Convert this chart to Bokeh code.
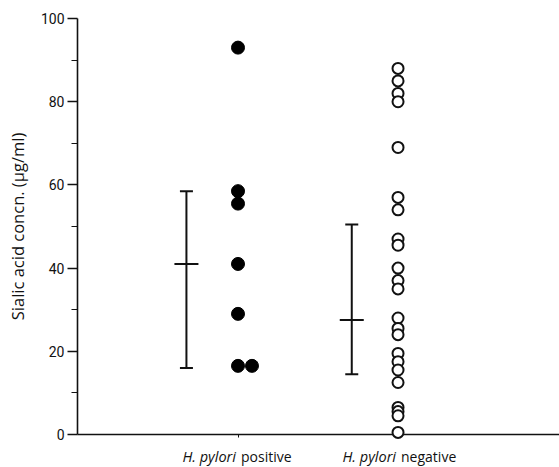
from bokeh.plotting import figure
from bokeh.models import Range1d, FixedTicker
from bokeh.core.properties import value
from bokeh.embed import file_html
from bokeh.resources import INLINE

# ---- data ----
groups = ["positive", "negative"]
group_x = [33.3, 66.5]           # position of each group's dots
stat_x = [22.6, 56.9]            # position of each group's mean/range bar
pos_x = [33.3, 33.3, 33.3, 33.3, 33.3, 33.3, 36.2]
pos_values = [93, 58.5, 55.5, 41, 29, 16.5, 16.5]
neg_values = [88, 85, 82, 80, 69, 57, 54, 47, 45.5, 40, 37, 35, 28, 25.5,
              24, 19.5, 17.5, 15.5, 12.5, 6.5, 5.5, 4.5, 0.5]
means = [41, 27.5]
upper = [58.5, 50.5]
lower = [16, 14.5]
y_ticks = [0, 20, 40, 60, 80, 100]
y_minor = [10, 30, 50, 70, 90]
label_italic = ["H. pylori", "H. pylori"]
label_plain = ["positive", "negative"]

FONT = "Roboto"
LFONT = "Open Sans"

p = figure(width=559, height=467, output_backend="svg", toolbar_location=None,
           x_range=Range1d(0, 100), y_range=Range1d(0, 100),
           min_border_left=77, min_border_right=0, min_border_top=18,
           min_border_bottom=33)
p.outline_line_color = None
p.grid.visible = False
p.background_fill_color = "white"

# y axis
ya = p.yaxis[0]
ya.ticker = FixedTicker(ticks=y_ticks, minor_ticks=y_minor)
ya.axis_line_width = 1.6
ya.axis_line_color = "#111111"
ya.major_tick_line_color = "#111111"
ya.minor_tick_line_color = "#111111"
ya.major_tick_out = 10
ya.major_tick_in = 0
ya.minor_tick_out = 6
ya.minor_tick_in = 0
ya.major_tick_line_width = 1.3
ya.minor_tick_line_width = 1.2
ya.major_label_text_font = FONT
ya.major_label_text_font_size = "14px"
ya.major_label_text_color = "#111111"
ya.major_label_standoff = 3
ya.axis_label = "Sialic acid concn. (\u03bcg/ml)"
ya.axis_label_text_font = LFONT
ya.axis_label_text_font_style = "normal"
ya.axis_label_text_font_size = "16.5px"
ya.axis_label_text_color = "#111111"
ya.axis_label_standoff = 9

# x axis
xa = p.xaxis[0]
xa.ticker = FixedTicker(ticks=group_x, minor_ticks=[])
xa.axis_line_width = 1.6
xa.axis_line_color = "#111111"
xa.major_tick_out = 3
xa.major_tick_in = 0
xa.major_tick_line_color = "#111111"
xa.major_label_overrides = {gx: "" for gx in group_x}
xa.major_label_text_font_size = "1px"

# x category labels (italic genus + plain word)
p.text(x=group_x, y=[0, 0], text=label_italic, text_align="right",
       text_baseline="top", y_offset=12, x_offset=-2,
       text_font=value(LFONT), text_font_style="italic",
       text_font_size="14.5px", text_color="#111111", level="overlay")
p.text(x=group_x, y=[0, 0], text=label_plain, text_align="left",
       text_baseline="top", y_offset=12, x_offset=3,
       text_font=value(LFONT), text_font_size="14px", text_color="#111111",
       level="overlay")

# range bars
p.segment(x0=stat_x, y0=lower, x1=stat_x, y1=upper, line_color="#111111",
          line_width=2)
p.scatter(x=stat_x + stat_x, y=lower + upper, marker="dash", size=13,
          line_color="#111111", line_width=2)
p.scatter(x=stat_x, y=means, marker="dash", size=24,
          line_color="#111111", line_width=2)

# points
p.scatter(x=pos_x, y=pos_values, marker="circle", size=13,
          fill_color="black", line_color="black", level="overlay")
p.scatter(x=[group_x[1]] * len(neg_values), y=neg_values, marker="circle",
          size=11, fill_color="white", line_color="#111111", line_width=2,
          level="overlay")

open("out.html", "w").write(file_html(p, INLINE))
